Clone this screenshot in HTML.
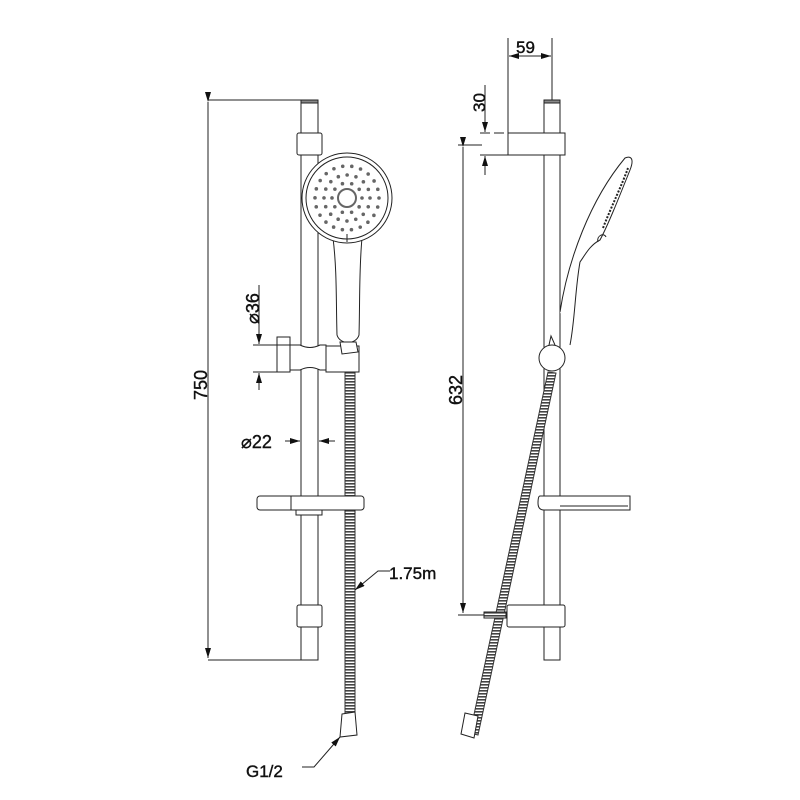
<!DOCTYPE html>
<html><head><meta charset="utf-8"><style>
html,body{margin:0;padding:0;background:#fff;width:800px;height:800px;overflow:hidden}
svg text{font-family:"Liberation Sans",sans-serif;fill:#111;stroke:#111;stroke-width:0.4}
</style></head><body>
<svg width="800" height="800" viewBox="0 0 800 800" xmlns="http://www.w3.org/2000/svg">
<defs>
<marker id="a" markerWidth="10" markerHeight="6" refX="10" refY="3" orient="auto" markerUnits="userSpaceOnUse"><path d="M0,0 L10,3 L0,6z" fill="#111"/></marker>
<pattern id="hz" width="4" height="3" patternUnits="userSpaceOnUse"><rect width="4" height="3" fill="#fff"/><rect y="0" width="4" height="1.6" fill="#444"/></pattern>
</defs>
<g fill="none" stroke="#222" stroke-width="1">
<line x1="208" y1="100" x2="302" y2="100"/>
<line x1="208" y1="660" x2="302" y2="660"/>
<line x1="208" y1="102" x2="208" y2="658" marker-start="url(#a)" marker-end="url(#a)"/>
<rect x="301" y="100" width="17" height="560" fill="#fff"/>
<rect x="301" y="100" width="17" height="3" fill="#888"/>
<rect x="297" y="133" width="25" height="22" rx="2" fill="#fff"/>
<rect x="297" y="605" width="25" height="22" rx="2" fill="#fff"/>
<rect x="345" y="372" width="10" height="342" fill="url(#hz)" stroke="#333"/>
<path d="M342,714 L355,712 L357,735 L340,737 Z" fill="#fff"/>
<path d="M333,238 C337,270 336,300 337,335 C340,345 356,345 359,335 C360,300 359,270 362,238" fill="#fff"/>
<circle cx="347" cy="198" r="45" fill="#fff"/>
<circle cx="347" cy="198" r="41"/>
<circle cx="347" cy="198" r="9" stroke-width="2" stroke="#666"/>
<line x1="347" y1="234" x2="347" y2="242"/>
<rect x="277" y="337" width="13" height="35" fill="#fff"/>
<path d="M290,345 L300,345 Q310,350 320,345 L326,345 L326,370 L320,370 Q310,365 300,370 L290,370 Z" fill="#fff"/>
<rect x="326" y="346" width="33" height="26" fill="#fff"/>
<path d="M340,342 L356,342 L358,352 L342,354Z" fill="#fff"/>
<line x1="253" y1="345" x2="290" y2="345"/>
<line x1="253" y1="372" x2="277" y2="372"/>
<line x1="259" y1="285" x2="259" y2="344" marker-end="url(#a)"/>
<line x1="259" y1="390" x2="259" y2="373" marker-end="url(#a)"/>
<line x1="285" y1="441" x2="300" y2="441" marker-end="url(#a)"/>
<line x1="335" y1="441" x2="319" y2="441" marker-end="url(#a)"/>
<rect x="257" y="496" width="107" height="14" rx="3" fill="#fff"/>
<line x1="291" y1="496" x2="291" y2="510"/>
<rect x="296" y="510" width="26" height="5" fill="#fff"/>
<rect x="345" y="510" width="10" height="4" fill="url(#hz)"/>
<polyline points="390,571 378,571 355,590" marker-end="url(#a)"/>
<polyline points="302,767 314,767 340,737" marker-end="url(#a)"/>

<line x1="508" y1="38" x2="508" y2="133"/>
<line x1="552" y1="38" x2="552" y2="100"/>
<line x1="530" y1="56" x2="509" y2="56" marker-end="url(#a)"/>
<line x1="530" y1="56" x2="551" y2="56" marker-end="url(#a)"/>
<line x1="480" y1="133" x2="508" y2="133" stroke-dasharray="10 4"/>
<line x1="480" y1="155" x2="508" y2="155"/>
<line x1="485" y1="85" x2="485" y2="132" marker-end="url(#a)"/>
<line x1="485" y1="175" x2="485" y2="156" marker-end="url(#a)"/>
<line x1="458" y1="145" x2="482" y2="145"/>
<line x1="458" y1="615" x2="510" y2="615"/>
<line x1="463" y1="147" x2="463" y2="613" marker-start="url(#a)" marker-end="url(#a)"/>
<rect x="544" y="100" width="16" height="560" fill="#fff"/>
<rect x="544" y="100" width="16" height="3" fill="#888"/>
<rect x="508" y="133" width="57" height="22" fill="#fff"/>
<rect x="507" y="605" width="58" height="22" rx="2" fill="#fff"/>
<path d="M548,372 L556,373 L478,735 L470,733 Z" fill="url(#hz)" stroke="#333"/>
<path d="M465,713 L478,716 L474,738 L461,734 Z" fill="#fff"/>
<rect x="484" y="612" width="22" height="6" fill="url(#hz)"/>
<path d="M560,312 C568,260 590,200 625,158 C632,155 634,160 630,170 C618,200 608,225 600,240 C590,245 585,255 580,262 C575,290 575,320 570,345" fill="#fff"/>
<path d="M598,242 C596,236 604,232 606,237" />
<path d="M603,228 C612,205 622,185 628,168" stroke-dasharray="2 1.5" stroke-width="2"/>
<circle cx="552" cy="358" r="13" fill="#fff"/>
<path d="M549,345 L551,336 L555,345"/>
<path d="M540,496 L630,496 L630,510 L544,510 Q538,510 538,503 Q538,496 540,496Z" fill="#fff"/>
<line x1="560" y1="506" x2="628" y2="506"/>
</g>
<g fill="none" stroke="#666" stroke-linecap="round" stroke-width="3.6">
<circle cx="347" cy="198" r="15" stroke-dasharray="0 9.42"/>
<circle cx="347" cy="198" r="23" stroke-dasharray="0 9.03"/>
<circle cx="347" cy="198" r="32" stroke-dasharray="0 9.14"/>
</g>
<text font-size="18" transform="translate(207,400) rotate(-90)">750</text>
<text font-size="18" transform="translate(259,324) rotate(-90)">⌀36</text>
<text x="241" y="448" font-size="18">⌀22</text>
<text x="389" y="579" font-size="17">1.75m</text>
<text x="246" y="777" font-size="17">G1/2</text>
<text x="516" y="53" font-size="17">59</text>
<text font-size="17" transform="translate(485,112) rotate(-90)">30</text>
<text font-size="18" transform="translate(462,405) rotate(-90)">632</text>
</svg>
</body></html>
